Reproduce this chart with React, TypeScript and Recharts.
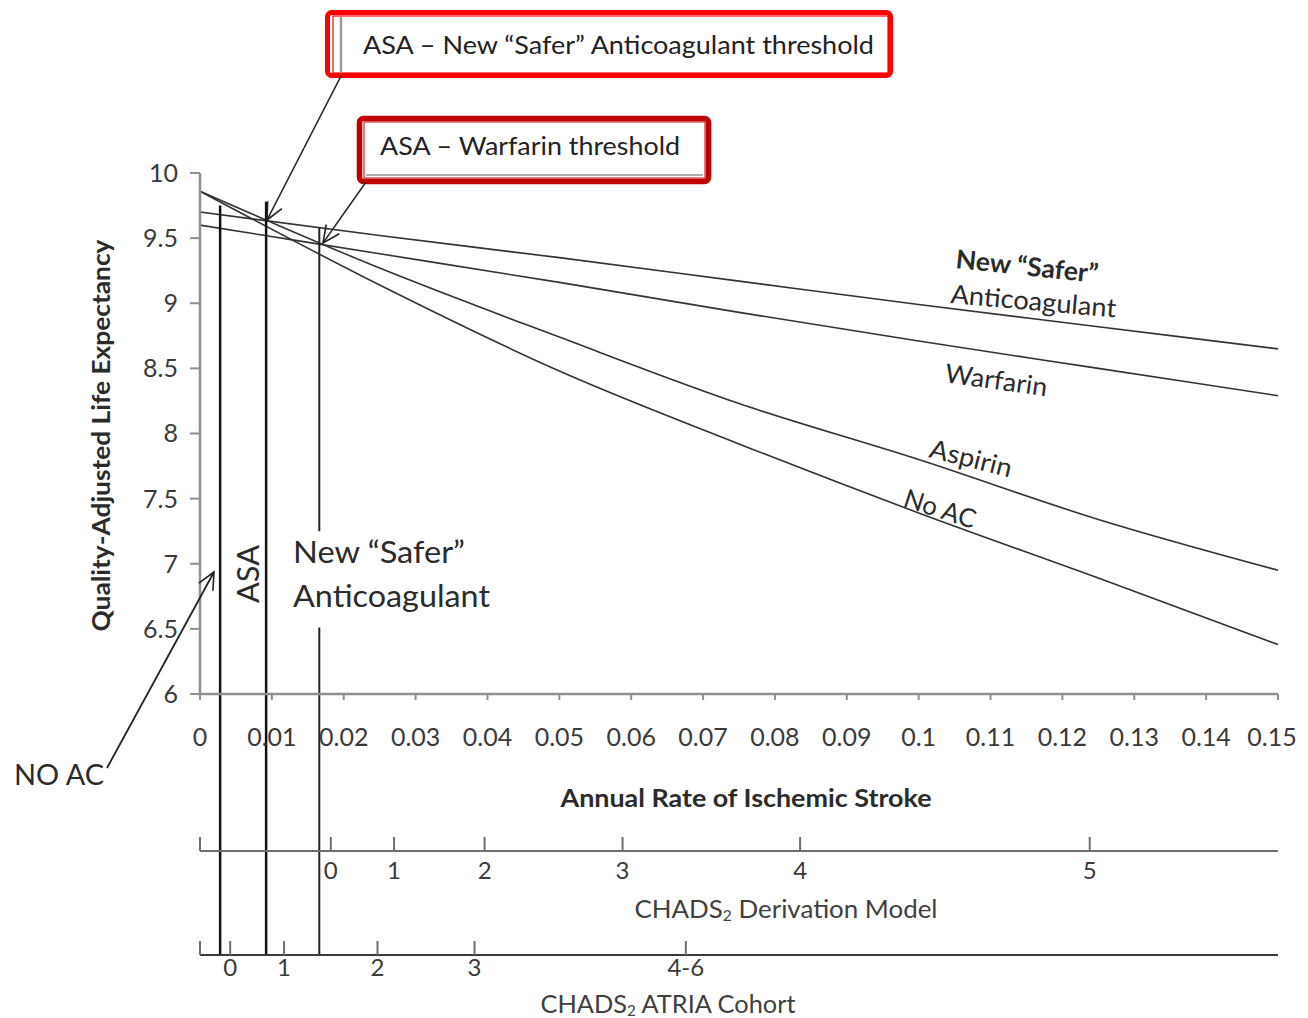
import React from "react";
import { LineChart, Line, XAxis, YAxis, ReferenceLine, Label } from "recharts";

// annual rate of ischemic stroke (x) and quality-adjusted life expectancy per strategy
const strokeRate = [0, 0.025, 0.05, 0.075, 0.1, 0.125, 0.15];
const saferQale = [9.7, 9.52, 9.35, 9.17, 8.99, 8.82, 8.65];
const warfarinQale = [9.6, 9.38, 9.16, 8.93, 8.71, 8.5, 8.29];
const aspirinQale = [9.86, 9.27, 8.74, 8.23, 7.8, 7.34, 6.95];
const noAcQale = [9.86, 9.14, 8.48, 7.92, 7.39, 6.89, 6.38];

const rateTicks = [0, 0.01, 0.02, 0.03, 0.04, 0.05, 0.06, 0.07, 0.08, 0.09, 0.1, 0.11, 0.12, 0.13, 0.14, 0.15];
const qaleTicks = [6, 6.5, 7, 7.5, 8, 8.5, 9, 9.5, 10];

// CHADS2 score scales mapped onto stroke rate
const derivationScores = ["", "0", "1", "2", "3", "4", "5"];
const derivationRates = [0, 0.0182, 0.027, 0.0396, 0.0588, 0.0835, 0.1238];
const atriaScores = ["", "0", "1", "2", "3", "4-6"];
const atriaRates = [0, 0.0042, 0.0117, 0.0247, 0.0382, 0.0676];

// threshold verticals: NO AC/ASA, ASA/New "Safer", ASA/Warfarin
const thresholdRates = [0.0028, 0.0092, 0.0166];
const thresholdTops = [9.75, 9.78, 9.58];

const data = strokeRate.map((rate, i) => ({
  rate,
  safer: saferQale[i],
  warfarin: warfarinQale[i],
  aspirin: aspirinQale[i],
  noac: noAcQale[i],
}));

const TEXT = "#2b2b2b";
const AXIS = "#8f8f8f";

const scoreLabel = (rates: number[], labels: string[]) => (v: number) => {
  const i = rates.findIndex((r) => Math.abs(r - v) < 1e-6);
  return i >= 0 ? labels[i] : "";
};

// rate tick, last label pulled in a little so it stays inside the page
const RateTick = ({ x, y, payload }: any) => {
  const last = payload.value === rateTicks[rateTicks.length - 1];
  return (
    <text x={x + (last ? -6 : 0)} y={y} dy="0.71em" textAnchor="middle" fill="#3a3a3a" fontSize={25}>
      {String(+Number(payload.value).toFixed(2))}
    </text>
  );
};

const YTitle = ({ viewBox }: any) => {
  const cx = viewBox.x + 92;
  const cy = viewBox.y + viewBox.height / 2 + 2;
  return (
    <text x={cx} y={cy} transform={`rotate(-90, ${cx}, ${cy})`} textAnchor="middle" dominantBaseline="central"
      fill={TEXT} fontSize={24} fontWeight={700} textLength={392} lengthAdjust="spacingAndGlyphs">
      Quality-Adjusted Life Expectancy
    </text>
  );
};

const RateTitle = ({ viewBox }: any) => (
  <text x={viewBox.x + viewBox.width / 2 + 7} y={viewBox.y + 103} textAnchor="middle" dominantBaseline="central"
    fill={TEXT} fontSize={24} fontWeight={700} textLength={371} lengthAdjust="spacingAndGlyphs">
    Annual Rate of Ischemic Stroke
  </text>
);

const chadsTitle = (rest: string, dx: number, dy: number, len: number) => ({ viewBox }: any) => (
  <text x={viewBox.x + viewBox.width / 2 + dx} y={viewBox.y + dy} textAnchor="middle" dominantBaseline="central"
    fill="#404040" fontSize={25} textLength={len} lengthAdjust="spacingAndGlyphs">
    CHADS<tspan fontSize={15} dy={7}>2</tspan>
    <tspan dy={-7}>{" " + rest}</tspan>
  </text>
);

const W = 1300;
const H = 1010;

export default function App() {
  return (
    <div style={{ position: "relative", width: W, height: H, fontFamily: "Lato, 'Open Sans', sans-serif" }}>
      <style>{"html,body{overflow:hidden !important} .recharts-surface{overflow:visible !important}"}</style>
      <LineChart width={W} height={H} data={data} margin={{ top: 165, right: 30, left: 0, bottom: 8 }}>
        <XAxis xAxisId="c_atria" dataKey="rate" type="number" domain={[0, 0.15]} allowDataOverflow ticks={atriaRates}
          tickFormatter={scoreLabel(atriaRates, atriaScores)} height={55} interval={0}
          axisLine={{ stroke: "#3a3a3a", strokeWidth: 2 }} tickLine={{ stroke: "#6e6e6e", strokeWidth: 2 }}
          tickSize={-14} tickMargin={18} tick={{ fill: "#3a3a3a", fontSize: 24 }}>
          <Label content={chadsTitle("ATRIA Cohort", -71, 48, 255)} />
        </XAxis>
        <XAxis xAxisId="b_derivation" dataKey="rate" type="number" domain={[0, 0.15]} allowDataOverflow ticks={derivationRates}
          tickFormatter={scoreLabel(derivationRates, derivationScores)} height={104} interval={0}
          axisLine={{ stroke: "#6e6e6e", strokeWidth: 2 }} tickLine={{ stroke: "#6e6e6e", strokeWidth: 2 }}
          tickSize={-14} tickMargin={25} tick={{ fill: "#3a3a3a", fontSize: 24 }}>
          <Label content={chadsTitle("Derivation Model", 47, 57, 303)} />
        </XAxis>
        <XAxis xAxisId="a_rate" dataKey="rate" type="number" domain={[0, 0.15]} ticks={rateTicks}
          height={157} interval={0}
          axisLine={{ stroke: AXIS, strokeWidth: 2.5 }} tickLine={{ stroke: AXIS, strokeWidth: 2 }}
          tickSize={6} tickMargin={28} tick={RateTick}>
          <Label content={RateTitle} />
        </XAxis>
        <YAxis type="number" domain={[6, 10]} ticks={qaleTicks} width={192} interval={0}
          axisLine={{ stroke: AXIS, strokeWidth: 2.5 }} tickLine={{ stroke: AXIS, strokeWidth: 2 }}
          tickSize={10} tickMargin={12} tick={{ fill: "#3a3a3a", fontSize: 25 }}>
          <Label content={YTitle} />
        </YAxis>

        <Line xAxisId="a_rate" dataKey="safer" type="monotone" stroke="#333" strokeWidth={1.6} dot={false} isAnimationActive={false} />
        <Line xAxisId="a_rate" dataKey="warfarin" type="monotone" stroke="#333" strokeWidth={1.6} dot={false} isAnimationActive={false} />
        <Line xAxisId="a_rate" dataKey="aspirin" type="monotone" stroke="#333" strokeWidth={1.6} dot={false} isAnimationActive={false} />
        <Line xAxisId="a_rate" dataKey="noac" type="monotone" stroke="#333" strokeWidth={1.6} dot={false} isAnimationActive={false} />

        <ReferenceLine xAxisId="a_rate" ifOverflow="visible" stroke="#111" strokeWidth={2.5}
          segment={[{ x: thresholdRates[0], y: thresholdTops[0] }, { x: thresholdRates[0], y: 4 }]} />
        <ReferenceLine xAxisId="a_rate" ifOverflow="visible" stroke="#111" strokeWidth={2.5}
          segment={[{ x: thresholdRates[1], y: thresholdTops[1] }, { x: thresholdRates[1], y: 4 }]} />
        <ReferenceLine xAxisId="a_rate" ifOverflow="visible" stroke="#222" strokeWidth={2}
          segment={[{ x: thresholdRates[2], y: thresholdTops[2] }, { x: thresholdRates[2], y: 7.25 }]} />
        <ReferenceLine xAxisId="a_rate" ifOverflow="visible" stroke="#222" strokeWidth={2}
          segment={[{ x: thresholdRates[2], y: 6.51 }, { x: thresholdRates[2], y: 4 }]} />
      </LineChart>

      <svg width={W} height={H} style={{ position: "absolute", left: 0, top: 0, pointerEvents: "none" }}>
        <defs>
          <marker id="openArrow" viewBox="0 0 20 20" refX="18" refY="10" markerWidth="20" markerHeight="20"
            orient="auto" markerUnits="userSpaceOnUse">
            <path d="M1,2 L18,10 L1,18" fill="none" stroke="#222" strokeWidth={1.6} />
          </marker>
        </defs>

        {/* threshold callout boxes */}
        <rect x={319.5} y={4.5} width={563} height={63} rx={4} fill="#fff" stroke="#ff0000" strokeWidth={5} />
        <rect x={325} y={8} width={555} height={57} fill="none" stroke="#ff0000" strokeWidth={1.2} />
        <line x1={333} y1={9} x2={333} y2={64} stroke="#9a9a9a" strokeWidth={2.5} />
        <text x={355} y={46} fontSize={25} fill="#222" textLength={511} lengthAdjust="spacingAndGlyphs">
          ASA – New “Safer” Anticoagulant threshold
        </text>

        <rect x={351.5} y={110.5} width={349} height={63} rx={4} fill="#fff" stroke="#c00000" strokeWidth={5.5} />
        <rect x={356} y={114} width={341} height={56} fill="none" stroke="#c00000" strokeWidth={1} />
        <line x1={358} y1={167} x2={695} y2={167} stroke="#b0b0b0" strokeWidth={2} />
        <text x={372} y={147} fontSize={25} fill="#222" textLength={300} lengthAdjust="spacingAndGlyphs">
          ASA – Warfarin threshold
        </text>

        {/* arrows */}
        <line x1={333} y1={68} x2={259} y2={212} stroke="#222" strokeWidth={1.6} markerEnd="url(#openArrow)" />
        <line x1={358} y1={174} x2={315} y2={235} stroke="#222" strokeWidth={1.4} markerEnd="url(#openArrow)" />
        <line x1={99} y1={760} x2={206} y2={564} stroke="#222" strokeWidth={1.8} markerEnd="url(#openArrow)" />

        {/* region labels */}
        <text x={6} y={777} fontSize={29} fill={TEXT} textLength={90} lengthAdjust="spacingAndGlyphs">NO AC</text>
        <text x={251} y={566} fontSize={30} fill={TEXT} textAnchor="middle" transform="rotate(-90, 251, 566)"
          textLength={58} lengthAdjust="spacingAndGlyphs">ASA</text>
        <text x={285} y={555} fontSize={30} fill={TEXT} textLength={172} lengthAdjust="spacingAndGlyphs">New “Safer”</text>
        <text x={285} y={599} fontSize={30} fill={TEXT} textLength={197} lengthAdjust="spacingAndGlyphs">Anticoagulant</text>

        {/* series labels */}
        <text x={947} y={260} fontSize={26} fontWeight={700} fill={TEXT} transform="rotate(6, 947, 260)"
          textLength={143} lengthAdjust="spacingAndGlyphs">New “Safer”</text>
        <text x={942} y={295} fontSize={26} fill={TEXT} transform="rotate(5, 942, 295)"
          textLength={166} lengthAdjust="spacingAndGlyphs">Anticoagulant</text>
        <text x={936} y={374} fontSize={26} fill={TEXT} transform="rotate(8, 936, 374)"
          textLength={103} lengthAdjust="spacingAndGlyphs">Warfarin</text>
        <text x={920} y={449} fontSize={26} fill={TEXT} transform="rotate(14, 920, 449)"
          textLength={84} lengthAdjust="spacingAndGlyphs">Aspirin</text>
        <text x={894} y={498} fontSize={26} fill={TEXT} transform="rotate(18, 894, 498)"
          textLength={74} lengthAdjust="spacingAndGlyphs">No AC</text>
      </svg>
    </div>
  );
}
